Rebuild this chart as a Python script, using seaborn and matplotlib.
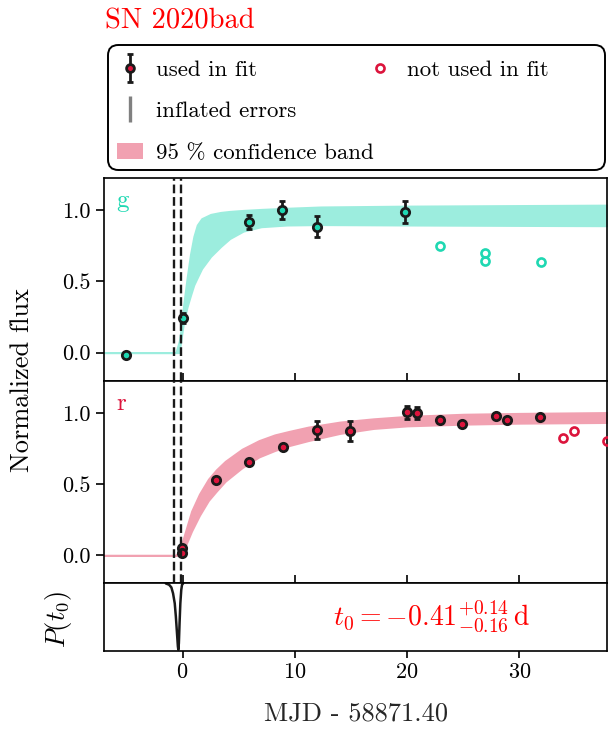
import numpy as np
import matplotlib
matplotlib.use("Agg")
import matplotlib.pyplot as plt
import seaborn as sns
from matplotlib.lines import Line2D
from matplotlib.patches import Patch, FancyBboxPatch
from matplotlib.container import ErrorbarContainer
from matplotlib.legend_handler import HandlerErrorbar

# ---------------- data ----------------
title = "SN 2020bad"
x_label = "MJD - 58871.40"
y_label = "Normalized flux"
t0_text = r"$t_0 = -0.41^{+0.14}_{-0.16}\,\mathrm{d}$"
x_ticks = [0, 10, 20, 30]
y_ticks = [0.0, 0.5, 1.0]
y_ticklabels = ["0.0", "0.5", "1.0"]

# g band: used points
g_x = [-5.0, 0.0, 5.88, 8.88, 11.98, 19.85]
g_y = [-0.016, 0.244, 0.918, 1.0, 0.884, 0.986]
g_err = [0.02, 0.035, 0.05, 0.062, 0.076, 0.08]
# g band: not used
g_x_out = [22.95, 26.9, 26.9, 31.9]
g_y_out = [0.745, 0.698, 0.642, 0.637]
# g 95% band
g_band_x = [-7.0, -0.6, -0.3, -0.2, 0.1, 0.4, 0.7, 1.0, 1.3, 1.7, 2.5, 3.4,
            4.2, 5.4, 7.0, 9.3, 12.3, 20.0, 30.0, 38.0]
g_band_hi = [0.0, 0.0, 0.08, 0.13, 0.34, 0.525, 0.69, 0.815, 0.895, 0.94, 0.97,
             0.984, 0.991, 0.998, 1.005, 1.013, 1.022, 1.028, 1.032, 1.035]
g_band_lo = [0.0, 0.0, 0.0, 0.06, 0.22, 0.32, 0.40, 0.475, 0.525, 0.59, 0.675,
             0.745, 0.80, 0.852, 0.883, 0.895, 0.898, 0.895, 0.892, 0.89]

# r band: used points
r_x = [-0.05, -0.05, 2.95, 5.95, 8.95, 11.95, 14.9, 19.95, 20.9, 22.9, 24.9,
       27.9, 28.9, 31.85]
r_y = [0.055, 0.015, 0.526, 0.657, 0.763, 0.88, 0.87, 1.003, 0.997, 0.952,
       0.918, 0.98, 0.946, 0.973]
r_err = [0.015, 0.015, 0.015, 0.02, 0.02, 0.065, 0.07, 0.047, 0.042, 0.015,
         0.015, 0.02, 0.015, 0.015]
# r band: not used
r_x_out = [33.85, 34.85, 37.8]
r_y_out = [0.82, 0.872, 0.803]
# r 95% band
r_band_x = [-7.0, -0.6, -0.3, 0.0, 0.8, 1.5, 2.3, 3.0, 3.8, 5.3, 6.8, 8.2,
            9.5, 11.2, 14.0, 17.0, 20.0, 25.0, 30.0, 38.0]
r_band_hi = [0.0, 0.0, 0.03, 0.10, 0.31, 0.43, 0.535, 0.60, 0.66, 0.745, 0.805,
             0.845, 0.87, 0.90, 0.935, 0.958, 0.975, 0.99, 0.996, 1.002]
r_band_lo = [0.0, 0.0, 0.0, 0.02, 0.17, 0.28, 0.385, 0.45, 0.52, 0.615, 0.69,
             0.735, 0.77, 0.805, 0.855, 0.89, 0.908, 0.92, 0.927, 0.932]

# explosion-time limits and posterior
t0_limits = [-0.73, -0.16]
post_x = [-1.5, -1.2, -1.0, -0.85, -0.7, -0.6, -0.5, -0.42, -0.38, -0.33,
          -0.27, -0.2, -0.12, -0.05, 0.05]
post_p = [0.0, 0.02, 0.06, 0.15, 0.3, 0.5, 0.75, 0.95, 1.0, 0.9, 0.6, 0.3,
          0.1, 0.02, 0.0]

legend_labels = ["used in fit", "inflated errors", "95 % confidence band",
                 "not used in fit"]

# ---------------- style ----------------
g_col = "#1fd8b2"
g_band_col = "#9cedde"
r_col = "#dc143c"
r_band_col = "#f1a1b1"

sns.set_theme(style="ticks")
plt.rcParams["font.family"] = ["cmr10", "DejaVu Serif"]
plt.rcParams["mathtext.fontset"] = "cm"
plt.rcParams["axes.unicode_minus"] = False
plt.rcParams["axes.formatter.use_mathtext"] = True
plt.rcParams["axes.edgecolor"] = "black"
plt.rcParams["axes.linewidth"] = 1.2
plt.rcParams["xtick.color"] = "black"
plt.rcParams["ytick.color"] = "black"
plt.rcParams["text.color"] = "black"

W, H = 609, 731
fig = plt.figure(figsize=(W / 100, H / 100), dpi=100)
gs = fig.add_gridspec(3, 1, height_ratios=[3, 3, 1], hspace=0,
                      left=104 / W, right=607 / W, top=1 - 178 / H,
                      bottom=1 - 651 / H)
ax_g = fig.add_subplot(gs[0])
ax_r = fig.add_subplot(gs[1], sharex=ax_g)
ax_p = fig.add_subplot(gs[2], sharex=ax_g)


def panel(ax, bx, blo, bhi, bcol, x, y, err, xo, yo, col, name):
    ax.fill_between(bx, blo, bhi, color=bcol, lw=1.4, zorder=1)
    ax.errorbar(x, y, yerr=err, fmt="none", ecolor="k", elinewidth=2.0,
                capsize=2.2, capthick=2.0, zorder=3)
    sns.scatterplot(x=x, y=y, ax=ax, color=col, edgecolor="k", linewidth=2.0,
                    s=36, zorder=4, legend=False)
    ax.plot(xo, yo, "o", ls="none", mfc="none", mec=col, mew=1.9, ms=5.8,
            zorder=4)
    for t in t0_limits:
        ax.axvline(t, color="k", ls="--", lw=1.7, zorder=5)
    ax.set_ylim(-0.197, 1.225)
    ax.set_yticks(y_ticks)
    ax.set_yticklabels(y_ticklabels)
    ax.tick_params(axis="y", direction="out", length=6, width=1.2,
                   labelsize=16)
    ax.tick_params(axis="x", direction="in", length=6, width=1.2,
                   labelbottom=False)
    ax.text(0.025, 0.855, name, transform=ax.transAxes, color=col,
            fontsize=18, va="baseline", ha="left")
    ax.set_xlabel("")
    ax.set_ylabel("")


panel(ax_g, g_band_x, g_band_lo, g_band_hi, g_band_col, g_x, g_y, g_err,
      g_x_out, g_y_out, g_col, "g")
panel(ax_r, r_band_x, r_band_lo, r_band_hi, r_band_col, r_x, r_y, r_err,
      r_x_out, r_y_out, r_col, "r")

# posterior panel
sns.lineplot(x=post_x, y=post_p, ax=ax_p, color="k", lw=1.8)
ax_p.set_ylim(1.02, 0.0)
ax_p.set_yticks([])
ax_p.set_xlim(-7.0, 37.8)
ax_p.set_xticks(x_ticks)
ax_p.tick_params(axis="x", direction="out", length=5, width=1.2,
                 labelsize=16)
ax_p.set_xlabel(x_label, fontsize=19)
ax_p.xaxis.set_label_coords(0.5, -0.75)
ax_p.set_ylabel("")
ax_p.text(0.652, 0.5, t0_text, transform=ax_p.transAxes, color="red",
          fontsize=20, ha="center", va="center")

for ax in (ax_g, ax_r, ax_p):
    for s in ax.spines.values():
        s.set_visible(True)
        s.set_linewidth(1.2)
        s.set_color("black")

# figure texts
fig.text(105 / W, 1 - 28.3 / H, title, color="red", fontsize=20.5,
         ha="left", va="baseline")
fig.text(22 / W, 1 - 380 / H, y_label, rotation=90, ha="center",
         va="center", fontsize=19)
fig.text(59 / W, 1 - 619 / H, r"$P(t_0)$", rotation=90, ha="center",
         va="center", fontsize=19)

# legend
h_used = ax_r.errorbar([np.nan], [np.nan], yerr=[np.nan], fmt="o",
                       mfc=r_col, mec="k", mew=2.0, ms=5.6, ecolor="k",
                       elinewidth=2.0, capsize=2.2, capthick=2.0)
h_infl = Line2D([], [], color="grey", marker="|", ls="none", ms=19, mew=2.4)
h_band = Patch(facecolor=r_band_col, edgecolor="none")
h_out = Line2D([], [], marker="o", ls="none", mfc="none", mec=r_col,
               mew=1.9, ms=5.8)

box = FancyBboxPatch((108 / W, 1 - 170 / H), (605 - 108) / W, 125 / H,
                     boxstyle="round,pad=0,rounding_size=0.017",
                     mutation_aspect=W / H, transform=fig.transFigure,
                     fc="white", ec="black", lw=1.4, zorder=0)
fig.add_artist(box)

common = dict(loc="upper left", frameon=False, fontsize=16.5,
              handlelength=1.13, handletextpad=0.6, labelspacing=0.93,
              borderpad=0, borderaxespad=0,
              handler_map={ErrorbarContainer: HandlerErrorbar(yerr_size=0.62)})
fig.legend([h_used, h_infl, h_band], legend_labels[:3],
           bbox_to_anchor=(116.7 / W, 1 - 60 / H), **common)
fig.legend([h_out], legend_labels[3:],
           bbox_to_anchor=(367.5 / W, 1 - 60 / H), **common)

fig.savefig("out.png", dpi=100)
